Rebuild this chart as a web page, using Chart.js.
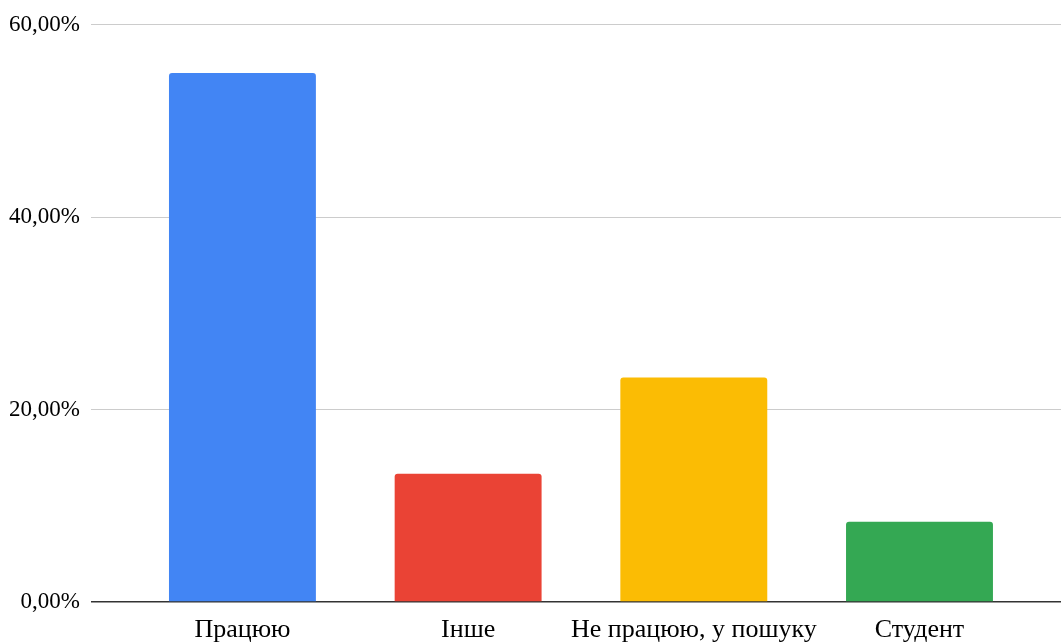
<!DOCTYPE html>
<html>
<head>
<meta charset="utf-8">
<script src="https://cdn.jsdelivr.net/npm/chart.js@4"></script>
<style>
    html, body { margin: 0; padding: 0; background: #fff; }
    #wrap { width: 1061px; height: 642px; position: relative; }
</style>
</head>
<body>
<div id="wrap"><canvas id="statusChart"></canvas></div>
<script>
// Survey data: share of respondents by status, in percent
const categories = ['Працюю', 'Інше', 'Не працюю, у пошуку', 'Студент'];
const shares = [55.0, 13.33, 23.33, 8.33];
const barColors = ['#4285F4', '#EA4335', '#FBBC04', '#34A853'];
const yTicks = [0, 20, 40, 60];

const fontFamily = '"Liberation Serif", "Times New Roman", serif';

const ctx = document.getElementById('statusChart').getContext('2d');

new Chart(ctx, {
    type: 'bar',
    data: {
        datasets: [{
            data: shares.map((v, i) => ({ x: i, y: v })),
            backgroundColor: barColors,
            borderRadius: 3,
            borderSkipped: 'bottom',
            barPercentage: 0.651,
            categoryPercentage: 1
        }]
    },
    options: {
        responsive: true,
        maintainAspectRatio: false,
        animation: false,
        plugins: {
            legend: { display: false },
            tooltip: { enabled: false }
        },
        scales: {
            x: {
                type: 'linear',
                offset: false,
                min: -0.671,
                max: 3.627,
                grid: { display: false, offset: false },
                border: { display: false },
                afterBuildTicks: (axis) => {
                    axis.ticks = categories.map((_, i) => ({ value: i }));
                },
                afterFit: (axis) => { axis.height = 40; },
                ticks: {
                    autoSkip: false,
                    maxRotation: 0,
                    padding: 5,
                    color: '#000',
                    font: { family: fontFamily, size: 26 },
                    callback: (value) => categories[value]
                }
            },
            y: {
                min: 0,
                max: 60,
                afterBuildTicks: (axis) => {
                    axis.ticks = yTicks.map(v => ({ value: v }));
                },
                afterFit: (axis) => { axis.width = 91; },
                border: { display: false },
                grid: {
                    drawTicks: false,
                    lineWidth: (c) => c.tick && c.tick.value === 0 ? 1.5 : 1,
                    color: (c) => c.tick && c.tick.value === 0 ? '#333333' : '#cccccc'
                },
                ticks: {
                    padding: 11,
                    color: '#000',
                    font: { family: fontFamily, size: 23 },
                    callback: (value) => value.toFixed(2).replace('.', ',') + '%'
                }
            }
        }
    }
});
</script>
</body>
</html>
